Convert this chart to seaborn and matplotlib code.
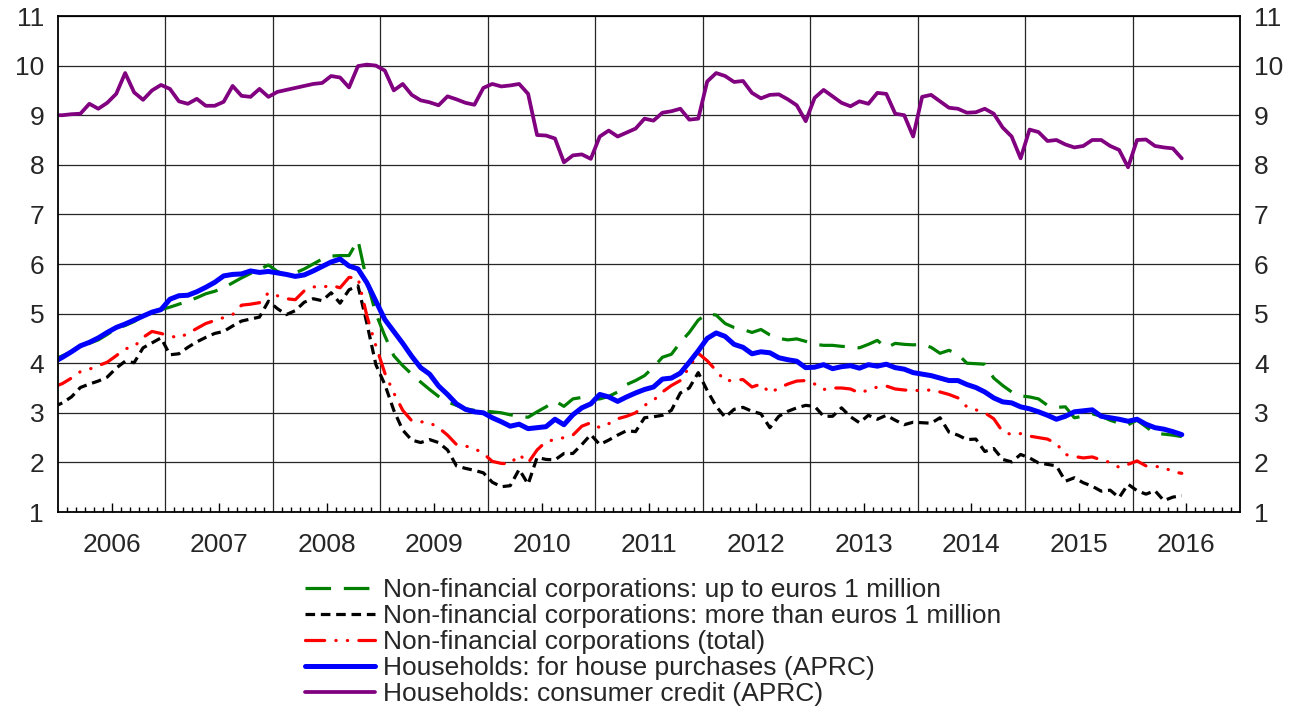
import pandas as pd
import matplotlib
matplotlib.use("Agg")
import matplotlib.pyplot as plt
import seaborn as sns

sns.set_theme(style="white")
plt.rcParams['font.family'] = ['Liberation Sans', 'DejaVu Sans']

# Monthly observations, Dec 2005 .. Jun 2016 (one row per line = one year)
months = pd.period_range('2005-12', '2016-06', freq='M')
years = list(range(2006, 2017))

nfc_small = [4.07,
    4.15, 4.23, 4.33, 4.40, 4.47, 4.58, 4.70, 4.76, 4.84, 4.95, 5.02, 5.08,
    5.13, 5.19, 5.25, 5.32, 5.40, 5.45, 5.52, 5.62, 5.72, 5.81, 5.89, 5.98,
    5.85, 5.78, 5.82, 5.90, 6.00, 6.10, 6.16, 6.17, 6.17, 6.48, 5.65, 5.00,
    4.55, 4.15, 3.95, 3.78, 3.62, 3.47, 3.33, 3.22, 3.15, 3.08, 3.05, 3.03,
    3.02, 3.00, 2.96, 2.93, 2.91, 3.02, 3.12, 3.24, 3.13, 3.28, 3.31, 3.27,
    3.28, 3.33, 3.42, 3.57, 3.65, 3.75, 3.92, 4.12, 4.18, 4.42, 4.62, 4.87,
    5.00, 4.97, 4.80, 4.72, 4.68, 4.62, 4.68, 4.57, 4.50, 4.47, 4.49, 4.44,
    4.38, 4.36, 4.36, 4.34, 4.33, 4.31, 4.38, 4.46, 4.31, 4.40, 4.38, 4.37,
    4.38, 4.32, 4.20, 4.26, 4.18, 4.00, 3.99, 3.98, 3.70, 3.55, 3.42, 3.34,
    3.32, 3.28, 3.15, 3.11, 3.12, 2.90, 2.93, 2.98, 2.93, 2.85, 2.79, 2.76,
    2.85, 2.72, 2.58, 2.57, 2.55, 2.52]

nfc_large = [3.12,
    3.20, 3.32, 3.51, 3.58, 3.64, 3.72, 3.90, 4.04, 4.01, 4.31, 4.41, 4.51,
    4.17, 4.19, 4.32, 4.43, 4.52, 4.60, 4.64, 4.75, 4.85, 4.89, 4.93, 5.25,
    5.10, 4.98, 5.06, 5.23, 5.30, 5.26, 5.42, 5.21, 5.48, 5.56, 4.80, 3.97,
    3.57, 3.05, 2.65, 2.45, 2.40, 2.46, 2.40, 2.25, 1.93, 1.88, 1.84, 1.79,
    1.60, 1.51, 1.53, 1.86, 1.56, 2.10, 2.06, 2.05, 2.18, 2.18, 2.36, 2.56,
    2.36, 2.45, 2.55, 2.64, 2.62, 2.90, 2.92, 2.95, 3.05, 3.40, 3.50, 3.81,
    3.45, 3.13, 2.91, 3.07, 3.11, 3.03, 2.98, 2.70, 2.93, 3.03, 3.10, 3.15,
    3.13, 2.93, 2.93, 3.10, 2.92, 2.80, 2.95, 2.87, 2.95, 2.85, 2.76, 2.81,
    2.80, 2.79, 2.90, 2.61, 2.55, 2.46, 2.47, 2.22, 2.28, 2.06, 2.01, 2.16,
    2.09, 1.99, 1.96, 1.93, 1.62, 1.69, 1.59, 1.52, 1.42, 1.44, 1.29, 1.56,
    1.43, 1.36, 1.43, 1.23, 1.30, 1.33]

nfc_total = [3.52,
    3.59, 3.70, 3.83, 3.88, 3.95, 4.02, 4.15, 4.29, 4.33, 4.52, 4.64, 4.60,
    4.55, 4.51, 4.60, 4.70, 4.80, 4.86, 4.92, 4.98, 5.17, 5.19, 5.22, 5.42,
    5.36, 5.30, 5.28, 5.46, 5.54, 5.53, 5.57, 5.52, 5.73, 5.72, 4.95, 4.35,
    3.80, 3.40, 3.05, 2.84, 2.82, 2.80, 2.70, 2.55, 2.36, 2.33, 2.28, 2.18,
    2.02, 1.98, 1.97, 2.16, 1.99, 2.25, 2.42, 2.46, 2.50, 2.55, 2.73, 2.80,
    2.70, 2.78, 2.88, 2.93, 3.00, 3.15, 3.25, 3.42, 3.55, 3.65, 3.92, 4.20,
    4.05, 3.85, 3.64, 3.66, 3.67, 3.52, 3.58, 3.40, 3.50, 3.58, 3.64, 3.65,
    3.58, 3.47, 3.50, 3.50, 3.48, 3.40, 3.46, 3.52, 3.54, 3.48, 3.46, 3.45,
    3.45, 3.46, 3.42, 3.37, 3.30, 3.12, 3.06, 3.00, 2.88, 2.62, 2.56, 2.58,
    2.53, 2.50, 2.47, 2.38, 2.16, 2.12, 2.09, 2.11, 2.05, 2.00, 1.90, 1.96,
    2.03, 1.93, 1.92, 1.90, 1.81, 1.78]

hh_house = [4.02,
    4.12, 4.23, 4.35, 4.42, 4.51, 4.62, 4.72, 4.79, 4.87, 4.95, 5.03, 5.08,
    5.29, 5.36, 5.37, 5.44, 5.53, 5.63, 5.76, 5.79, 5.80, 5.86, 5.83, 5.85,
    5.82, 5.79, 5.75, 5.78, 5.86, 5.95, 6.04, 6.10, 5.96, 5.90, 5.62, 5.25,
    4.88, 4.64, 4.40, 4.14, 3.91, 3.78, 3.54, 3.37, 3.18, 3.07, 3.02, 3.00,
    2.90, 2.82, 2.73, 2.77, 2.68, 2.70, 2.72, 2.87, 2.76, 2.96, 3.10, 3.18,
    3.37, 3.32, 3.23, 3.32, 3.40, 3.47, 3.52, 3.68, 3.70, 3.80, 4.02, 4.25,
    4.50, 4.61, 4.54, 4.38, 4.32, 4.19, 4.23, 4.21, 4.11, 4.07, 4.04, 3.91,
    3.92, 3.97, 3.89, 3.93, 3.95, 3.90, 3.97, 3.94, 3.98, 3.91, 3.88, 3.81,
    3.78, 3.75, 3.70, 3.65, 3.65, 3.57, 3.51, 3.42, 3.30, 3.22, 3.20, 3.12,
    3.08, 3.02, 2.95, 2.87, 2.93, 3.02, 3.04, 3.06, 2.93, 2.90, 2.87, 2.83,
    2.87, 2.77, 2.70, 2.67, 2.62, 2.56]

hh_consumer = [9.00,
    9.00, 9.02, 9.03, 9.23, 9.13, 9.25, 9.43, 9.85, 9.46, 9.31, 9.50, 9.61,
    9.53, 9.28, 9.23, 9.33, 9.19, 9.19, 9.27, 9.59, 9.39, 9.37, 9.53, 9.37,
    9.47, 9.51, 9.55, 9.59, 9.63, 9.65, 9.79, 9.76, 9.56, 9.99, 10.02, 10.00,
    9.90, 9.50, 9.63, 9.41, 9.30, 9.26, 9.20, 9.38, 9.32, 9.25, 9.21, 9.55,
    9.63, 9.58, 9.60, 9.63, 9.43, 8.60, 8.59, 8.53, 8.05, 8.19, 8.21, 8.12,
    8.57, 8.69, 8.57, 8.65, 8.73, 8.93, 8.89, 9.05, 9.08, 9.13, 8.91, 8.93,
    9.68, 9.85, 9.79, 9.67, 9.69, 9.45, 9.34, 9.41, 9.42, 9.32, 9.20, 8.88,
    9.35, 9.51, 9.38, 9.25, 9.18, 9.28, 9.23, 9.45, 9.43, 9.03, 9.00, 8.57,
    9.37, 9.41, 9.28, 9.15, 9.13, 9.05, 9.06, 9.13, 9.03, 8.75, 8.57, 8.13,
    8.71, 8.66, 8.48, 8.50, 8.41, 8.35, 8.38, 8.50, 8.50, 8.38, 8.30, 7.95,
    8.50, 8.51, 8.38, 8.35, 8.33, 8.13]

# x position: months since Jan 2006, points sit in the middle of each month
df = pd.DataFrame({
    'pos': (months.year - 2006) * 12 + months.month - 0.5,
    'nfc_small': nfc_small,
    'nfc_large': nfc_large,
    'nfc_total': nfc_total,
    'hh_house': hh_house,
    'hh_consumer': hh_consumer,
})

series = [
    ('nfc_small', 'Non-financial corporations: up to euros 1 million', '#008000', 2.3, (0, (8, 4))),
    ('nfc_large', 'Non-financial corporations: more than euros 1 million', '#000000', 2.3, (0, (3, 1.8))),
    ('nfc_total', 'Non-financial corporations (total)', '#FF0000', 2.3, (0, (6, 3.5, 0.1, 3.5, 0.1, 3.5))),
    ('hh_house', 'Households: for house purchases (APRC)', '#0000FF', 3.6, '-'),
    ('hh_consumer', 'Households: consumer credit (APRC)', '#800080', 2.7, '-'),
]

fs = 19

fig = plt.figure(figsize=(12.96, 7.12), dpi=100)
ax = fig.add_axes([58 / 1296, 1 - 512 / 712, 1182 / 1296, 496 / 712])

for key, label, color, lw, ls in series:
    sns.lineplot(data=df, x='pos', y=key, ax=ax, color=color, linewidth=lw,
                 linestyle=ls, label=label, errorbar=None,
                 dash_capstyle='round' if key == 'nfc_total' else 'butt')

ax.set_xlim(0, 132)
ax.set_ylim(1, 11)
ax.set_xlabel('')
ax.set_ylabel('')

# y axis: labels on both sides, no tick marks
ax.set_yticks(range(1, 12))
ax.tick_params(axis='y', length=0, labelsize=fs, labelright=True, pad=10)
ax.tick_params(axis='y', which='major', right=True, left=True)
ax.yaxis.grid(True, color='0.15', linewidth=0.9)

# x axis: year labels in the middle of each year, monthly ticks inside
mid_year = [(y - 2006) * 12 + 6 for y in years]
month_ticks = [m for m in range(1, 132) if m % 6 != 0]
ax.set_xticks(mid_year)
ax.set_xticklabels([str(y) for y in years])
ax.set_xticks(month_ticks, minor=True)
ax.tick_params(axis='x', which='major', direction='in', length=6.5, width=1,
               color='black', labelsize=fs, pad=15, bottom=True)
ax.tick_params(axis='x', which='minor', direction='in', length=3.6, width=1,
               color='black', bottom=True)
ax.xaxis.grid(False)

# vertical gridlines at year boundaries
boundaries = [(y - 2006) * 12 for y in years[1:]]
ax.vlines(boundaries, 1, 11, colors='0.15', linewidth=0.9, zorder=0.8)

for sp in ax.spines.values():
    sp.set_color('black')
    sp.set_linewidth(1.3)

handles, labels = ax.get_legend_handles_labels()
ax.legend(handles, labels, loc='upper left',
          bbox_to_anchor=(305 / 1296, 1 - 578 / 712), bbox_transform=fig.transFigure,
          frameon=False, fontsize=fs, handlelength=2.65, handletextpad=0.3,
          labelspacing=0.08, borderpad=0, borderaxespad=0)

fig.savefig('out.png', dpi=100)
